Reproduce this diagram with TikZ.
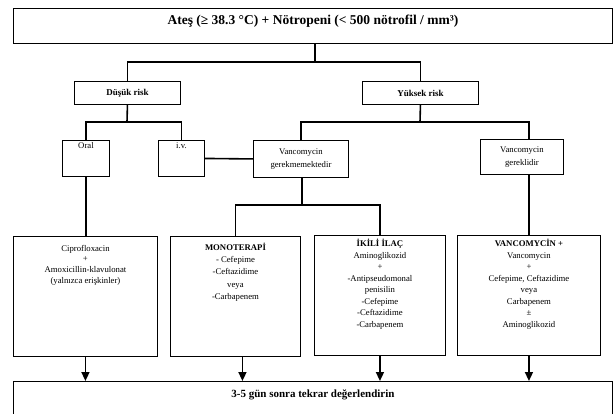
\documentclass[tikz,border=0pt]{standalone}
\usepackage{fontspec}
\setmainfont{Liberation Serif}
\usetikzlibrary{arrows.meta,positioning,calc}

% box text, top aligned: width, height, first baseline, leading, text
\newcommand{\boxtxt}[5]{\parbox[t][#2][t]{#1}{\centering\fontsize{8.7}{#4}\selectfont\rule{0pt}{#3}#5}}

\tikzset{
  box/.style={draw, line width=0.9pt, inner sep=0pt, anchor=north west},
  conn/.style={line width=1.6pt},
  arr/.style={line width=1.6pt, -{Triangle[width=8pt,length=9pt]}}
}

\begin{document}
\begin{tikzpicture}[x=1pt,y=-1pt]
\useasboundingbox (0,0) rectangle (615,414);

% top
\node[box] (ates) at (13,8) {\parbox[t][35pt][t]{599pt}{\centering\fontsize{13.5}{15}\selectfont\bfseries\rule{0pt}{16.5pt}Ateş (≥ 38.3 °C) + Nötropeni (< 500 nötrofil / mm³)}};

% risk
\node[box, minimum width=106pt, minimum height=23pt, font=\fontsize{9}{10}\selectfont\bfseries] (dusuk) at (74,81) {Düşük risk};
\node[box, minimum width=116pt, minimum height=23pt, font=\fontsize{9}{10}\selectfont\bfseries] (yuksek) at (362,81) {Yüksek risk};

% second row
\node[box] (oral) at (62,140) {\boxtxt{47pt}{36pt}{8.5pt}{13}{Oral}};
\node[box] (iv) at (158,140) {\boxtxt{46pt}{36pt}{8.5pt}{13}{i.v.}};
\node[box] (vgerek) at (253,140) {\boxtxt{95pt}{37pt}{14.5pt}{13}{Vancomycin\\gerekmemektedir}};
\node[box] (vgerekli) at (480,139) {\boxtxt{83pt}{35pt}{13.5pt}{13}{Vancomycin\\gereklidir}};

% treatments
\node[box] (cipro) at (13,236) {\boxtxt{144pt}{120pt}{14.8pt}{10.6}{Ciprofloxacin\\+\\Amoxicillin-klavulonat\\(yalnızca erişkinler)}};
\node[box] (mono) at (170,236) {\boxtxt{130pt}{120pt}{13.8pt}{12.3}{\textbf{MONOTERAPİ}\\- Cefepime\\-Ceftazidime\\veya\\-Carbapenem}};
\node[box] (ikili) at (314,235) {\boxtxt{131pt}{120pt}{11.5pt}{11.5}{\textbf{İKİLİ İLAÇ}\\Aminoglikozid\\+\\-Antipseudomonal\\penisilin\\-Cefepime\\-Ceftazidime\\-Carbapenem}};
\node[box] (vplus) at (457,235) {\boxtxt{143pt}{120pt}{11.5pt}{11.5}{\textbf{VANCOMYCİN +}\\Vancomycin\\+\\Cefepime, Ceftazidime\\veya\\Carbapenem\\±\\Aminoglikozid}};

% bottom
\node[box] (tekrar) at (13,381) {\parbox[t][60pt][t]{599pt}{\centering\fontsize{11}{13}\selectfont\bfseries\rule{0pt}{16pt}3-5 gün sonra tekrar değerlendirin}};

% connectors
\coordinate (j0) at (315,62);
\coordinate (j1) at (127,122);
\coordinate (j2) at (420,122);
\coordinate (j3) at (302,205);
\coordinate (j4) at (529,139);

\draw[conn] (ates.south -| j0) -- (j0);
\draw[conn] (dusuk.north) |- (j0) -| (yuksek.north);
\draw[conn] (dusuk.south) -- (j1);
\draw[conn] (oral.north) |- (j1) -| (iv.north);
\draw[conn] (yuksek.south) -- (j2);
\draw[conn] (vgerek.north) |- (j2) -| (j4);
\draw[conn] (iv.east) -- (vgerek.west);
\draw[conn] (vgerek.south -| j3) -- (j3);
\draw[conn] (mono.north) |- (j3) -| (ikili.north);
\draw[conn] (oral.south) -- (cipro.north -| oral.south);
\draw[conn] (vgerekli.south -| j4) -- (vplus.north -| j4);

\draw[arr] (cipro.south) -- (cipro.south |- tekrar.north);
\draw[arr] ([xshift=7pt]mono.south) -- ([xshift=7pt]mono.south |- tekrar.north);
\draw[arr] (ikili.south) -- (ikili.south |- tekrar.north);
\draw[arr] (vplus.south) -- (vplus.south |- tekrar.north);
\end{tikzpicture}
\end{document}
